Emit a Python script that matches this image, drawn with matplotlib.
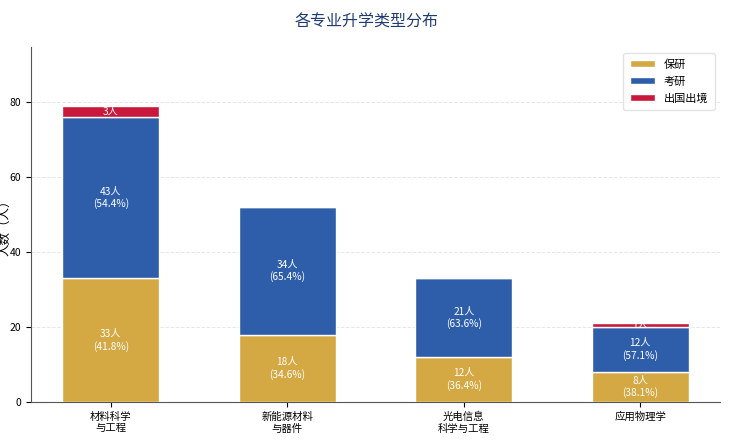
import matplotlib.pyplot as plt
import numpy as np

plt.rcParams['font.family'] = ['Noto Sans CJK SC', 'DejaVu Sans']

majors = ["材料科学\n与工程", "新能源材料\n与器件", "光电信息\n科学与工程", "应用物理学"]
baoyan = [33, 18, 12, 8]
kaoyan = [43, 34, 21, 12]
chuguo = [3, 0, 0, 1]

series = [("保研", baoyan, "#D4A843"),
          ("考研", kaoyan, "#2E5EAA"),
          ("出国出境", chuguo, "#C8193C")]

totals = np.array(baoyan) + np.array(kaoyan) + np.array(chuguo)
x = np.arange(len(majors))
width = 0.55

fig = plt.figure(figsize=(7.34, 4.41), dpi=100)
ax = fig.add_axes([0.0422, 0.0884, 0.939, 0.805])

bottom = np.zeros(len(majors))
for name, vals, col in series:
	vals = np.array(vals)
	ax.bar(x, vals, width, bottom=bottom, color=col, edgecolor="white", linewidth=1, label=name, zorder=3)
	for i in range(len(x)):
		if vals[i] <= 0:
			continue
		yc = bottom[i] + vals[i] / 2
		pct = vals[i] / totals[i] * 100
		if vals[i] >= 5:
			txt = "%d人\n(%.1f%%)" % (vals[i], pct)
		else:
			txt = "%d人" % vals[i]
		ax.text(x[i], yc, txt, ha="center", va="center", color="white", fontsize=7.3, linespacing=1.2, zorder=4)
	bottom += vals

ax.set_ylim(0, totals.max() * 1.2)
ax.set_xticks(x, labels=majors, fontsize=7.5)
ax.tick_params(axis='y', labelsize=7.5)
ax.set_ylabel("人数（人）", fontsize=9)
ax.yaxis.set_label_coords(-0.028, 0.5)
ax.grid(axis='y', linestyle='--', color='#dddddd', linewidth=0.7, alpha=0.7, zorder=0)
ax.spines['top'].set_visible(False)
ax.spines['right'].set_visible(False)
ax.spines['left'].set_color('#555555')
ax.spines['bottom'].set_color('#555555')

ax.legend(loc='upper right', fontsize=8, frameon=True, edgecolor='#dddddd',
	handlelength=2.2, handleheight=0.6, labelspacing=0.6, borderpad=0.6)
fig.text(0.5, 0.95, "各专业升学类型分布", ha="center", va="center", fontsize=11.5, color="#1F3B73")

fig.savefig("out.png", dpi=100)
